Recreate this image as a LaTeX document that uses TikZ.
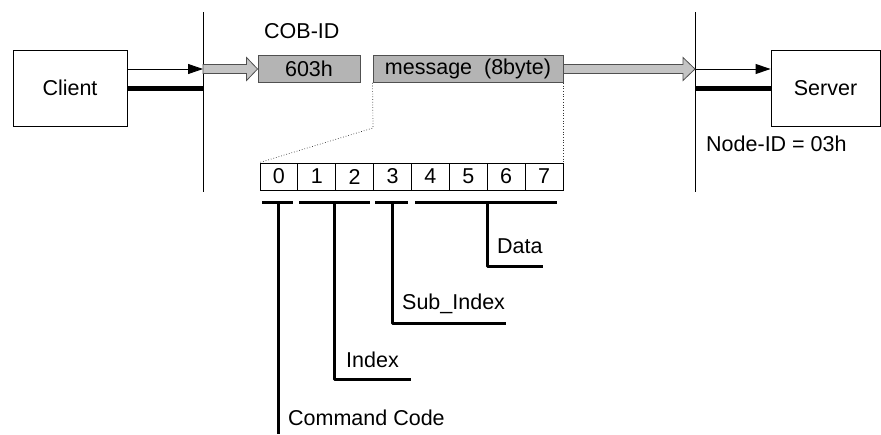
\documentclass[tikz,border=0pt]{standalone}
\usepackage{fontspec}
\setmainfont{Liberation Sans}
\usetikzlibrary{arrows.meta,calc}

\definecolor{boxgray}{RGB}{180,180,180}
\definecolor{arrowgray}{RGB}{196,196,196}
\definecolor{edgegray}{RGB}{80,80,80}

\tikzset{
  txt/.style={font=\fontsize{21.5}{26}\selectfont, inner sep=0pt},
  station/.style={txt, draw=black, line width=0.9pt, fill=white},
  field/.style={txt, draw=edgegray, line width=0.9pt, fill=boxgray, minimum height=27pt},
  bytecell/.style={txt, draw=black, line width=0.9pt, minimum width=37.875pt, minimum height=27pt},
  bus/.style={line width=0.9pt, black},
  signal/.style={line width=0.9pt, -{Triangle[length=15pt,width=10pt]}},
  heavy/.style={line width=5pt},
  frame/.style={fill=arrowgray, draw=edgegray, line width=0.8pt, line join=miter},
  zoomline/.style={line width=0.7pt, dotted, black!80},
  brace/.style={line width=3pt, line join=round},
}

\begin{document}
\begin{tikzpicture}[x=1pt, y=-1pt]
  \useasboundingbox (0,0) rectangle (881,434);

  % bus boundaries on both sides
  \coordinate (lbusT) at (203,12);
  \coordinate (lbusB) at (203,192);
  \coordinate (rbusT) at (695,12);
  \coordinate (rbusB) at (695,192);
  \draw[bus] (lbusT) -- (lbusB);
  \draw[bus] (rbusT) -- (rbusB);

  % stations
  \node[station, minimum width=114pt, minimum height=76pt] (client) at (70,88) {Client};
  \node[station, minimum width=109pt, minimum height=76pt] (server) at (825.5,88) {Server};
  \node[txt, anchor=base west] (nodeid) at (706,151) {Node-ID = 03h};

  % client side connections
  \coordinate (lin) at (203,69);
  \coordinate (lheavy) at (203,88);
  \draw[signal] ([yshift=19pt]client.east) -- (lin);
  \draw[heavy] (client.east) -- (lheavy);

  % server side connections
  \coordinate (rin) at (695,69);
  \coordinate (rheavy) at (695,88);
  \draw[signal] (rin) -- ([yshift=19pt]server.west);
  \draw[heavy] (rheavy) -- (server.west);

  % CAN frame: identifier and data field
  \node[txt, anchor=base west] (cobid) at (264,38) {COB-ID};
  \node[field, minimum width=102pt] (cob) at (309,69) {603h};
  \node[field, minimum width=190pt] (msg) at (468,69) {message\ \ (8byte)};

  % hollow frame arrows
  \path[frame] ([yshift=4.5pt]lin) -- ([xshift=-11pt,yshift=4.5pt]cob.west)
    -- ([xshift=-11pt,yshift=11.5pt]cob.west) -- (cob.west)
    -- ([xshift=-11pt,yshift=-11.5pt]cob.west) -- ([xshift=-11pt,yshift=-4.5pt]cob.west)
    -- ([yshift=-4.5pt]lin) -- cycle;
  \path[frame] ([yshift=4.5pt]msg.east) -- ([xshift=-12pt,yshift=4.5pt]rin)
    -- ([xshift=-12pt,yshift=11.5pt]rin) -- (rin)
    -- ([xshift=-12pt,yshift=-11.5pt]rin) -- ([xshift=-12pt,yshift=-4.5pt]rin)
    -- ([yshift=-4.5pt]msg.east) -- cycle;
  \node[field, minimum width=190pt] at (msg) {message\ \ (8byte)};

  % the eight data bytes
  \foreach \i in {0,...,7} {
    \node[bytecell] (b\i) at ({260+37.875*(\i+0.5)},176.5) {\i};
  }

  % expansion of the data field
  \coordinate (bend) at (373,128);
  \draw[zoomline] (msg.south west) -- (bend) -- (b0.north west);
  \draw[zoomline] (msg.south east) -- (b7.north east);

  % grouping bars under the bytes
  \coordinate (g0a) at (262,202);  \coordinate (g0b) at (293,202);
  \coordinate (g1a) at (299,202);  \coordinate (g1b) at (370,202);
  \coordinate (g3a) at (375,202);  \coordinate (g3b) at (408,202);
  \coordinate (g4a) at (415,202);  \coordinate (g4b) at (557,202);
  \draw[brace] (g0a) -- (g0b);
  \draw[brace] (g1a) -- (g1b);
  \draw[brace] (g3a) -- (g3b);
  \draw[brace] (g4a) -- (g4b);

  % field labels
  \node[txt, anchor=base west] (lcmd) at (288,425) {Command Code};
  \node[txt, anchor=base west] (lidx) at (346,367) {Index};
  \node[txt, anchor=base west] (lsub) at (402,309) {Sub\_Index};
  \node[txt, anchor=base west] (ldat) at (497,253) {Data};

  % leader lines from the bars to the labels
  \coordinate (d0) at (278,202);
  \coordinate (d1) at (334,202);
  \coordinate (d3) at (392,202);
  \coordinate (d4) at (487,202);
  \coordinate (e0) at (278,434);
  \coordinate (e1) at (411,379);
  \coordinate (e3) at (506,323);
  \coordinate (e4) at (543,266);
  \draw[brace] (d0) -- (e0);
  \draw[brace] (d1) |- (e1);
  \draw[brace] (d3) |- (e3);
  \draw[brace] (d4) |- (e4);
\end{tikzpicture}
\end{document}
